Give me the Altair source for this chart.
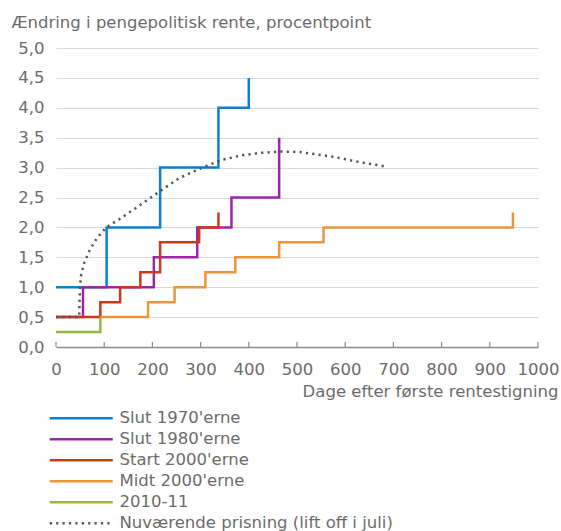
import altair as alt
import pandas as pd

# Series names (legend order) and styling
series_names = [
    "Slut 1970'erne",
    "Slut 1980'erne",
    "Start 2000'erne",
    "Midt 2000'erne",
    "2010-11",
    "Nuværende prisning (lift off i juli)",
]
series_colors = ["#0a7fd4", "#9b27a8", "#c9391f", "#e9963c", "#97b93b", "#555555"]
series_dashes = [[1, 0], [1, 0], [1, 0], [1, 0], [1, 0], [2.2, 4.2]]

# Step series: day of each rate change and the cumulative change (pct. points)
days_1970 = [0, 105, 216, 337, 400]
rate_1970 = [1.0, 2.0, 3.0, 4.0, 4.5]

days_1980 = [0, 56, 203, 293, 364, 463]
rate_1980 = [0.5, 1.0, 1.5, 2.0, 2.5, 3.5]

days_2000s_start = [0, 92, 133, 175, 216, 297, 337]
rate_2000s_start = [0.5, 0.75, 1.0, 1.25, 1.75, 2.0, 2.25]

days_2000s_mid = [92, 191, 246, 310, 372, 463, 555, 948]
rate_2000s_mid = [0.5, 0.75, 1.0, 1.25, 1.5, 1.75, 2.0, 2.25]

days_2010 = [0, 92]
rate_2010 = [0.25, 0.5]

# Current market pricing (smooth path)
days_pricing = [0, 48, 49, 50, 52, 59, 70, 84, 104, 132, 174, 222, 257, 298,
                340, 382, 423, 465, 506, 576, 631, 683]
rate_pricing = [0.5, 0.5, 0.8, 1.0, 1.2, 1.42, 1.62, 1.81, 2.0, 2.14, 2.37,
                2.64, 2.83, 2.98, 3.12, 3.2, 3.245, 3.27, 3.26, 3.18, 3.09, 3.02]

x_ticks = [0, 100, 200, 300, 400, 500, 600, 700, 800, 900, 1000]
y_ticks = [0, 0.5, 1, 1.5, 2, 2.5, 3, 3.5, 4, 4.5, 5]

FONT = "DejaVu Sans"
FS = 16.5
GREY = "#6b6b6b"
W, H = 482, 299

series_data = [
    (days_1970, rate_1970, "step-after"),
    (days_1980, rate_1980, "step-after"),
    (days_2000s_start, rate_2000s_start, "step-after"),
    (days_2000s_mid, rate_2000s_mid, "step-after"),
    (days_2010, rate_2010, "step-after"),
    (days_pricing, rate_pricing, "linear"),
]

x_scale = alt.Scale(domain=[0, 1000], nice=False, zero=False)
y_scale = alt.Scale(domain=[0, 5], nice=False)
color_scale = alt.Scale(domain=series_names, range=series_colors)
dash_scale = alt.Scale(domain=series_names, range=series_dashes)

# Wide line swatch drawn as a custom path so the rows stay compact
legend = alt.Legend(
    title=None,
    orient="none",
    legendX=17,
    legendY=362,
    direction="vertical",
    symbolType="M-6.3,0H6.3",
    symbolSize=100,
    symbolStrokeWidth=2.5,
    labelFont=FONT,
    labelFontSize=FS,
    labelColor=GREY,
    labelOffset=30,
    rowPadding=4,
    labelLimit=400,
)

x_axis = alt.Axis(
    title="Dage efter første rentestigning",
    values=x_ticks,
    format="d",
    labelFlush=False,
    labelOverlap=False,
    ticks=False,
    grid=False,
    domainColor="#8c8c8c",
    domainWidth=1.5,
    labelFont=FONT,
    labelFontSize=FS,
    labelColor=GREY,
    labelPadding=14,
    titleFont=FONT,
    titleFontSize=FS,
    titleFontWeight="normal",
    titleColor=GREY,
    titleAlign="right",
    titleX=W + 20,
    titleY=49,
    titleBaseline="alphabetic",
)

y_axis = alt.Axis(
    title="Ændring i pengepolitisk rente, procentpoint",
    values=y_ticks,
    labelExpr="replace(format(datum.value, '.1f'), '.', ',')",
    domain=False,
    ticks=False,
    grid=True,
    gridColor="#d9d9d9",
    gridWidth=1.2,
    labelFont=FONT,
    labelFontSize=FS,
    labelColor=GREY,
    labelPadding=12,
    titleFont=FONT,
    titleFontSize=FS,
    titleFontWeight="normal",
    titleColor=GREY,
    titleAngle=0,
    titleAlign="left",
    titleX=-45,
    titleY=-21,
    titleBaseline="alphabetic",
)

layers = []
for name, (days, rates, interp) in zip(series_names, series_data):
    df = pd.DataFrame({"dag": days, "rente": rates, "serie": name})
    layers.append(
        alt.Chart(df).mark_line(interpolate=interp, strokeWidth=2.5).encode(
            x=alt.X("dag:Q", scale=x_scale, axis=x_axis),
            y=alt.Y("rente:Q", scale=y_scale, axis=y_axis),
            color=alt.Color("serie:N", scale=color_scale, legend=legend),
            strokeDash=alt.StrokeDash("serie:N", scale=dash_scale, legend=legend),
        )
    )

# Inward tick marks on the x axis
ticks_df = pd.DataFrame({"t": x_ticks})
tick_layer = alt.Chart(ticks_df).mark_rule(color="#8c8c8c", strokeWidth=1.2).encode(
    x=alt.X("t:Q", scale=x_scale, axis=x_axis),
    y=alt.value(H - 5),
    y2=alt.value(H),
)

chart = alt.layer(tick_layer, *layers).properties(
    width=W,
    height=H,
    background="white",
    autosize=alt.AutoSizeParams(type="none"),
    padding={"left": 56, "top": 48, "right": 23, "bottom": 184},
).configure_view(stroke=None)

chart.save("out.html", embed_options={"renderer": "svg", "actions": False})
